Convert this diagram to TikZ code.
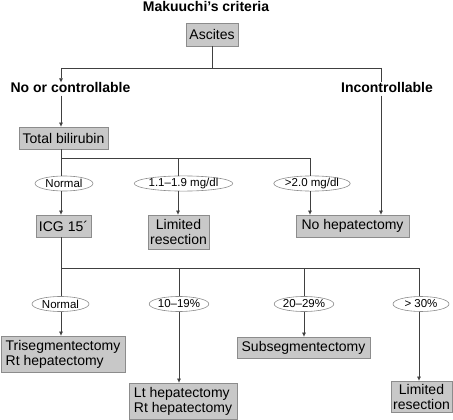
\documentclass[tikz,border=0pt]{standalone}
\usepackage{fontspec}
\setmainfont{Liberation Sans}
\usetikzlibrary{arrows.meta,shapes.geometric}
\definecolor{boxfill}{HTML}{C8C8C8}
\definecolor{boxline}{HTML}{8C8C8C}
\definecolor{linec}{HTML}{404040}
\begin{document}
\begin{tikzpicture}[x=1pt,y=-1pt,
 box/.style={draw=boxline, fill=boxfill, line width=0.8pt, inner sep=0pt, font=\fontsize{14}{15}\selectfont},
 oval/.style={ellipse, draw=boxline, line width=0.6pt, inner sep=0pt, minimum height=15pt, font=\fontsize{11.5}{12}\selectfont},
 lbl/.style={inner sep=0pt, font=\bfseries\fontsize{14}{16}\selectfont, text height=10pt, text depth=3pt},
 conn/.style={draw=linec, line width=0.7pt},
 arr/.style={conn, -{Triangle[length=4pt,width=3.5pt]}}]
\useasboundingbox (0,0) rectangle (453,420);

% title
\node[inner sep=0pt, font=\bfseries\fontsize{14}{16}\selectfont, anchor=base] (title) at (206,11.5) {Makuuchi’s criteria};

% boxes
\node[box, minimum width=52pt, minimum height=23pt] (asc) at (212,34.5) {Ascites};
\node[lbl] (nc) at (70.5,89) {No or controllable};
\node[lbl] (inc) at (387,89) {Incontrollable};
\node[box, minimum width=89pt, minimum height=22pt] (tb) at (63.5,138) {Total bilirubin};
\node[box, minimum width=55pt, minimum height=22pt] (icg) at (63.5,226) {ICG 15´};
\node[box, minimum width=61pt, minimum height=34pt, align=center] (lr1) at (178.5,232) {Limited\\resection};
\node[box, minimum width=113pt, minimum height=22pt] (nh) at (352.5,226) {No hepatectomy};
\node[box, minimum width=124pt, minimum height=36pt, align=left] (tri) at (63,354) {Trisegmentectomy\\Rt hepatectomy};
\node[box, minimum width=108pt, minimum height=36pt, align=left] (lt) at (183,401) {Lt hepatectomy\\Rt hepatectomy};
\node[box, minimum width=133pt, minimum height=21pt] (sub) at (303.5,347.5) {Subsegmentectomy};
\node[box, minimum width=61pt, minimum height=31pt, align=center] (lr2) at (421.5,396.5) {Limited\\resection};

% ovals
\node[oval, minimum width=58pt] (o1) at (64,183.5) {Normal};
\node[oval, minimum width=83pt] (o2) at (183.5,183.5) {1.1–1.9 mg/dl};
\node[oval, minimum width=72pt] (o3) at (312,183.5) {>2.0 mg/dl};
\node[oval, minimum width=57pt] (p1) at (60.5,304) {Normal};
\node[oval, minimum width=57pt] (p2) at (179,304) {10–19\%};
\node[oval, minimum width=58pt] (p3) at (304,304) {20–29\%};
\node[oval, minimum width=56pt] (p4) at (421,304) {> 30\%};

% junction coordinates
\coordinate (ja) at (212,68);
\coordinate (jl) at (61,68);
\coordinate (jr) at (381,68);
\coordinate (jb) at (61,158);
\coordinate (jb2) at (178,158);
\coordinate (jb3) at (310,158);
\coordinate (jc) at (61,268);
\coordinate (jc2) at (179,268);
\coordinate (jc3) at (304,268);
\coordinate (jc4) at (419,268);

% ascites level
\draw[conn] (asc.south) -- (ja);
\draw[conn] (jl) -- (jr);
\draw[arr] (jl) -- (jl |- nc.north);
\draw[conn] (jr) -- (jr |- inc.north);
\draw[arr] (jl |- nc.south) -- (jl |- tb.north);
\draw[arr] (jr |- inc.south) -- (jr |- nh.north);

% bilirubin level
\draw[conn] (jb |- tb.south) -- (jb);
\draw[conn] (jb) -- (jb3);
\draw[conn] (jb) -- (jb |- o1.north);
\draw[conn] (jb2) -- (jb2 |- o2.north);
\draw[conn] (jb3) -- (jb3 |- o3.north);
\draw[arr] (jb |- o1.south) -- (jb |- icg.north);
\draw[arr] (jb2 |- o2.south) -- (jb2 |- lr1.north);
\draw[arr] (jb3 |- o3.south) -- (jb3 |- nh.north);

% ICG level
\draw[conn] (jc |- icg.south) -- (jc);
\draw[conn] (jc) -- (jc4);
\draw[conn] (jc) -- (jc |- p1.north);
\draw[conn] (jc2) -- (jc2 |- p2.north);
\draw[conn] (jc3) -- (jc3 |- p3.north);
\draw[conn] (jc4) -- (jc4 |- p4.north);
\draw[arr] (jc |- p1.south) -- (jc |- tri.north);
\draw[arr] (jc2 |- p2.south) -- (jc2 |- lt.north);
\draw[arr] (jc3 |- p3.south) -- (jc3 |- sub.north);
\draw[arr] (jc4 |- p4.south) -- (jc4 |- lr2.north);
\end{tikzpicture}
\end{document}
